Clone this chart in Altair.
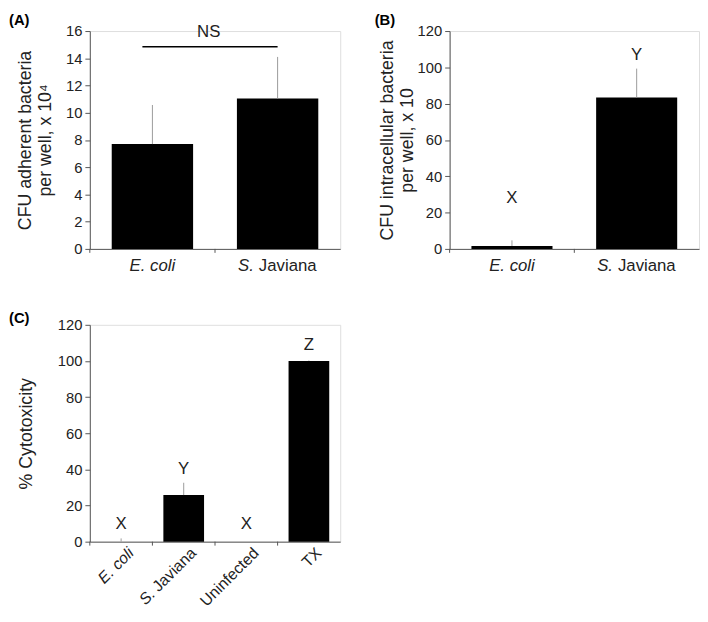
import altair as alt
import pandas as pd

# ---------------- data ----------------
panel_labels = ["(A)", "(B)", "(C)"]

catA = ["E. coli", "S. Javiana"]
meanA = [7.7, 11.05]
errA = [10.57, 14.1]

catB = ["E. coli", "S. Javiana"]
meanB = [1.6, 83.4]
errB = [4.7, 99.3]
lettersB = ["X", "Y"]
letterYB = [27.8, 106.6]

catC = ["E. coli", "S. Javiana", "Uninfected", "TX"]
meanC = [0.0, 25.8, 0.0, 100.0]
errC = [1.8, 32.6, 0.0, 100.3]
lettersC = ["X", "Y", "X", "Z"]
letterYC = [9.8, 40.0, 9.8, 109.0]

# label split: italic prefix, normal rest
prefix = {"E. coli": "E. coli", "S. Javiana": "S.", "Uninfected": "", "TX": ""}
rest = {"E. coli": "", "S. Javiana": "Javiana", "Uninfected": "Uninfected", "TX": "TX"}

ns_text = "NS"
ns_level = 14.84
ns_text_level = 15.95

titleA = ["CFU adherent bacteria", "per well, x 10\u2074"]
titleB = ["CFU intracellular bacteria", "per well, x 10"]
titleC = "% Cytotoxicity"

FONT = "Liberation Sans"
AXIS_COLOR = "#555555"
TXT = "#222222"


def frame(cats, means, errs, letters=None, letter_y=None):
    d = {"cat": cats, "mean": means, "err": errs,
         "pre": [prefix[c] for c in cats], "rest": [rest[c] for c in cats]}
    if letters is not None:
        d["letter"] = letters
        d["ly"] = letter_y
    return pd.DataFrame(d)


def panel(df, cats, ymax, ystep, title, w, h, label_text, label_x, label_y,
          title_pad, rotated=False, ns=False):
    xs = alt.Scale(domain=cats, paddingInner=0, paddingOuter=0)
    ys = alt.Scale(domain=[0, ymax], nice=False)
    xaxis = alt.Axis(labels=False, ticks=False, title=None, domain=True,
                     domainColor=AXIS_COLOR)
    yaxis = alt.Axis(title=title, values=list(range(0, ymax + 1, ystep)),
                     grid=False, tickSize=5, tickColor=AXIS_COLOR,
                     domainColor=AXIS_COLOR, labelFontSize=15, labelFont=FONT,
                     labelColor=TXT, labelPadding=3, labelOverlap=False,
                     titleFont=FONT, titleFontSize=18, titleFontWeight="normal",
                     titleColor=TXT, titlePadding=title_pad, titleLineHeight=20)

    def X(field="cat:N", **kw):
        return alt.X(field, scale=xs, sort=cats, axis=xaxis, **kw)

    def Y(field):
        return alt.Y(field, scale=ys, axis=yaxis)

    base = alt.Chart(df)
    bars = base.mark_bar(color="black", width=alt.RelativeBandSize(0.65)).encode(
        x=X(), y=Y("mean:Q"))
    errs = base.mark_rule(color="#9a9a9a", strokeWidth=1).encode(
        x=X(), y=Y("mean:Q"), y2="err:Q")
    ticks = base.mark_rule(color=AXIS_COLOR, strokeWidth=1).encode(
        x=X(bandPosition=0), y=alt.value(h), y2=alt.value(h + 4))
    layers = [bars, errs, ticks]
    if "letter" in df.columns:
        layers.append(base.mark_text(fontSize=17, font=FONT, color=TXT).encode(
            x=X(), y=Y("ly:Q"), text="letter:N"))
    if rotated:
        lab = dict(font=FONT, fontSize=16, color=TXT, angle=315,
                   align="right", baseline="middle")
        ly = alt.value(h + 9)
        bp = 0.66
        layers.append(base.transform_filter("datum.rest != ''").mark_text(**lab, dx=0).encode(
            x=X(bandPosition=bp), y=ly, text="rest:N"))
        layers.append(base.transform_filter("datum.rest == ''").mark_text(
            **lab, fontStyle="italic", dx=0).encode(
            x=X(bandPosition=bp), y=ly, text="pre:N"))
        layers.append(base.transform_filter("datum.rest != '' && datum.pre != ''").mark_text(
            **lab, fontStyle="italic", dx=-59).encode(
            x=X(bandPosition=bp), y=ly, text="pre:N"))
    else:
        lab = dict(font=FONT, fontSize=17, color=TXT, baseline="middle")
        ly = alt.value(h + 17)
        layers.append(base.transform_filter("datum.rest == ''").mark_text(
            **lab, align="center", fontStyle="italic").encode(
            x=X(), y=ly, text="pre:N"))
        layers.append(base.transform_filter("datum.rest != '' && datum.pre != ''").mark_text(
            **lab, align="right", fontStyle="italic", dx=-24).encode(
            x=X(), y=ly, text="pre:N"))
        layers.append(base.transform_filter("datum.rest != '' && datum.pre != ''").mark_text(
            **lab, align="left", dx=-19).encode(
            x=X(), y=ly, text="rest:N"))
    if ns:
        nsdf = pd.DataFrame({"a": [cats[0]], "b": [cats[1]], "v": [ns_level],
                             "tv": [ns_text_level], "t": [ns_text]})
        nsb = alt.Chart(nsdf)
        layers.append(nsb.mark_rule(color="black", strokeWidth=1.5).encode(
            x=X("a:N", bandPosition=0.42), x2="b:N", y=Y("v:Q")))
        layers.append(nsb.mark_text(fontSize=17, font=FONT, color=TXT).encode(
            x=X("a:N", bandPosition=0.95), y=Y("tv:Q"), text="t:N"))
    pl = alt.Chart(pd.DataFrame({"t": [label_text]})).mark_text(
        font=FONT, fontSize=15, fontWeight="bold", align="left", baseline="middle",
        color="black").encode(x=alt.value(label_x), y=alt.value(label_y), text="t:N")
    layers.append(pl)
    return alt.layer(*layers).properties(width=w, height=h)


dfA = frame(catA, meanA, errA)
dfB = frame(catB, meanB, errB, lettersB, letterYB)
dfC = frame(catC, meanC, errC, lettersC, letterYC)

pA = panel(dfA, catA, 16, 2, titleA, 254, 221, panel_labels[0], -82, -11, 11, ns=True)
pB = panel(dfB, catB, 120, 20, titleB, 253, 221, panel_labels[1], -76, -11, 1)
pC = panel(dfC, catC, 120, 20, titleC, 254, 220, panel_labels[2], -82, -7, 22, rotated=True)

top = alt.hconcat(pA, pB, spacing=33)
chart = alt.vconcat(top, pC, spacing=36).properties(padding=0).configure_view(
    stroke=None).configure(font=FONT)

chart.save("out.html", embed_options={"renderer": "svg", "actions": False})
